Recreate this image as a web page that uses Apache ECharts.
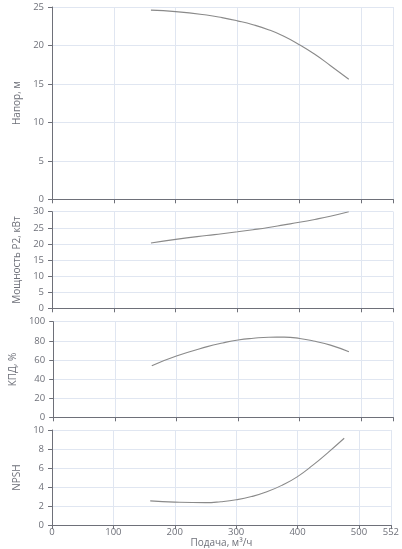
<!DOCTYPE html>
<html>
<head>
<meta charset="utf-8">
<script src="https://cdn.jsdelivr.net/npm/echarts@6/dist/echarts.min.js"></script>
<style>
html,body{margin:0;padding:0;background:#fff;}
#c{width:402px;height:549px;}
</style>
</head>
<body>
<div id="c"></div>
<script>
// Data
const flow = [160, 200, 250, 275, 300, 325, 350, 375, 400, 425, 450, 480];
const flowNpsh = [160, 200, 250, 275, 300, 325, 350, 375, 400, 425, 450, 476];
const head = [24.6, 24.4, 23.95, 23.62, 23.2, 22.7, 22.05, 21.2, 20.1, 18.85, 17.4, 15.6];
const power = [20.3, 21.4, 22.6, 23.15, 23.75, 24.4, 25.1, 25.9, 26.7, 27.6, 28.6, 30.0];
const efficiency = [54.0, 64.1, 73.9, 77.8, 80.9, 82.7, 83.8, 83.9, 82.5, 79.5, 75.5, 68.6];
const npsh = [2.55, 2.42, 2.36, 2.46, 2.66, 3.0, 3.5, 4.2, 5.1, 6.3, 7.65, 9.13];

const yNames = ['Напор, м', 'Мощность P2, кВт', 'КПД, %', 'NPSH'];
const yMax = [25, 30, 100, 10];
const yInterval = [5, 5, 20, 2];
const xName = 'Подача, м³/ч';
const xMax = 552;
const xInterval = 100;
const seriesValues = [head, power, efficiency, npsh];
const seriesFlows = [flow, flow, flow, flowNpsh];

const font = '"Open Sans", sans-serif';
const labelColor = '#6e7079';
const gridsPos = [
  {top: 7, height: 192.3},
  {top: 211.7, height: 96.6},
  {top: 321.7, height: 95.6},
  {top: 430, height: 95.3}
];

const grid = gridsPos.map(g => ({left: 52, right: 8.7, top: g.top, height: g.height, containLabel: false}));

const xAxis = gridsPos.map((g, i) => ({
  type: 'value', gridIndex: i, min: 0, max: xMax, interval: xInterval,
  name: i === 3 ? xName : '',
  nameLocation: 'middle', nameGap: 12,
  nameTextStyle: {fontFamily: font, fontSize: 10, color: labelColor},
  axisLine: {show: true, lineStyle: {color: '#6e7079'}},
  axisTick: {show: true, length: 4},
  axisLabel: {show: i === 3, fontFamily: font, fontSize: 9.5, color: labelColor, margin: 2},
  splitLine: {show: true, lineStyle: {color: '#e0e6f1'}}
}));

const yAxis = gridsPos.map((g, i) => ({
  type: 'value', gridIndex: i, min: 0, max: yMax[i], interval: yInterval[i],
  name: yNames[i], nameLocation: 'middle', nameGap: 26, nameRotate: 90,
  nameTextStyle: {fontFamily: font, fontSize: 10, color: labelColor},
  axisLine: {show: true, lineStyle: {color: '#6e7079'}},
  axisTick: {show: true, length: 4},
  axisLabel: {fontFamily: font, fontSize: 9.5, color: labelColor, margin: 8},
  splitLine: {show: true, lineStyle: {color: '#e0e6f1'}}
}));

const series = seriesValues.map((vals, i) => ({
  type: 'line', xAxisIndex: i, yAxisIndex: i,
  data: seriesFlows[i].map((q, k) => [q, vals[k]]),
  smooth: 0.5, showSymbol: false, symbol: 'none',
  lineStyle: {color: '#8a8a8a', width: 1.1},
  silent: true
}));

const chart = echarts.init(document.getElementById('c'));
chart.setOption({
  animation: false,
  backgroundColor: '#fff',
  grid, xAxis, yAxis, series
});
</script>
</body>
</html>
